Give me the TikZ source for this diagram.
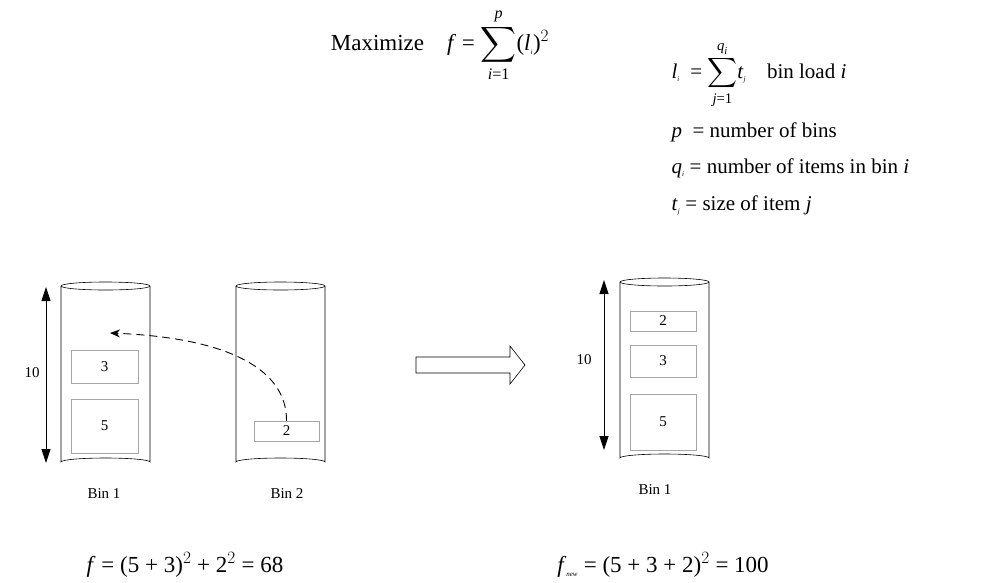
\documentclass[tikz,border=0pt]{standalone}
\usepackage{fontspec}
\setmainfont{Liberation Serif}
\usepackage{amsmath}
\usetikzlibrary{arrows.meta}
\newcommand{\iv}[1]{\textit{#1}}
\begin{document}
\begin{tikzpicture}[x=1pt,y=-1pt,
  item/.style={draw=gray!70,line width=0.4pt,inner sep=0pt,font=\fontsize{15}{17}\selectfont},
  lbl/.style={font=\fontsize{15}{17}\selectfont},
  big/.style={font=\fontsize{23}{27}\selectfont},
  mid/.style={font=\fontsize{21}{25}\selectfont,anchor=west}]
\useasboundingbox (0,0) rectangle (1003,582);
% bins
\foreach \n/\x/\t/\b in {b1/61/286/462, b2/236/286/462, b3/620/282/458}{
  \draw[line width=0.6pt] (\x,\t) -- (\x,\b) arc[start angle=180,end angle=360,x radius=44.5,y radius=4] -- (\x+89,\t);
  \draw[line width=0.6pt] (\x+44.5,\t) ellipse[x radius=44.5,y radius=4];
}
\node[item,minimum width=67,minimum height=33] (i13) at (104.5,366.5) {3};
\node[item,minimum width=67,minimum height=54] (i15) at (104.5,426) {5};
\node[item,minimum width=65,minimum height=20] (i22) at (286.5,431) {2};
\node[item,minimum width=66,minimum height=20] (i32) at (663,321) {2};
\node[item,minimum width=66,minimum height=32] (i33) at (663,361) {3};
\node[item,minimum width=66,minimum height=56] (i35) at (663,422) {5};
\coordinate (tgt) at (110,333);
\draw[dash pattern=on 8pt off 5pt,line width=0.9pt,-{Stealth[length=10pt,width=8pt]}] (i22.north) .. controls (287,370) and (230,338) .. (tgt);
% height arrows
\coordinate (a1) at (46,287); \coordinate (a2) at (46,463);
\draw[line width=0.8pt,{Triangle[length=14pt,width=9pt]}-{Triangle[length=14pt,width=9pt]}] (a1) -- (a2);
\node[lbl] (t1) at (32,373) {10};
\coordinate (c1) at (604,280); \coordinate (c2) at (604,450);
\draw[line width=0.8pt,{Triangle[length=14pt,width=9pt]}-{Triangle[length=14pt,width=9pt]}] (c1) -- (c2);
\node[lbl] (t2) at (584,360) {10};
% hollow arrow
\draw[line width=0.6pt] (416,357) -- (510,357) -- (510,346) -- (525,365) -- (510,384) -- (510,373) -- (416,373) -- cycle;
% labels
\node[lbl] (l1) at (104,494) {Bin 1};
\node[lbl] (l2) at (287,494) {Bin 2};
\node[lbl] (l3) at (655,490) {Bin 1};
\node[big] (f1) at (185,565) {\iv{f} = (5 + 3)$^{2}$ + 2$^{2}$ = 68};
\node[big] (f2) at (663,565) {\iv{f}$_{\textit{\scriptsize new}}$ = (5 + 3 + 2)$^{2}$ = 100};
\node[big] (mx) at (440,45) {Maximize\quad \iv{f} = $\displaystyle\sum_{\text{\iv{i}=1}}^{\text{\iv{p}}}$(\iv{l}$_{\text{\iv{\scriptsize i}}}$)$^{2}$};
\node[mid] (d1) at (668,75) {\iv{l}$_{\text{\iv{\scriptsize i}}}$\ \ = $\displaystyle\sum_{\text{\iv{j}=1}}^{\text{\iv{q}}_{\text{\iv{i}}}}$\iv{t}$_{\text{\iv{\scriptsize j}}}$\quad bin load \iv{i}};
\node[mid] (d2) at (668,132) {\iv{p}\ \ = number of bins};
\node[mid] (d3) at (668,168) {\iv{q}$_{\text{\iv{\scriptsize i}}}$ = number of items in bin \iv{i}};
\node[mid] (d4) at (668,205) {\iv{t}$_{\text{\iv{\scriptsize j}}}$ = size of item \iv{j}};
\end{tikzpicture}
\end{document}
